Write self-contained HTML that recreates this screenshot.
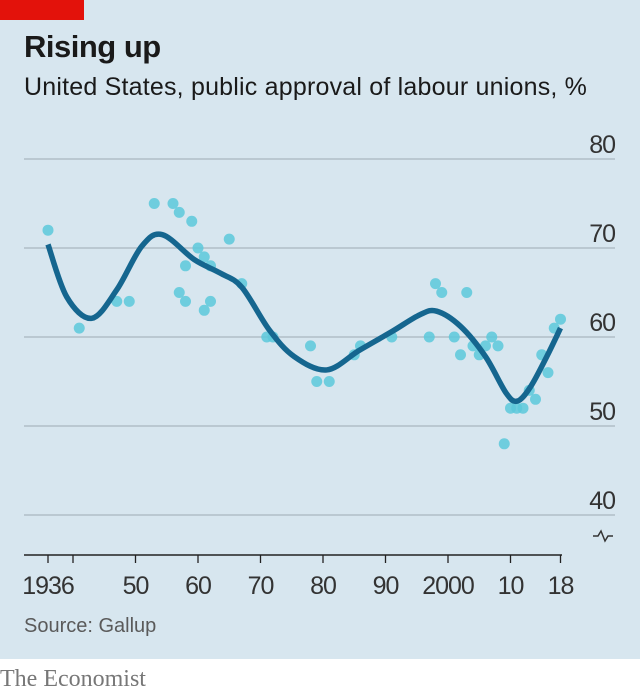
<!DOCTYPE html>
<html><head><meta charset="utf-8"><style>
body{margin:0;width:640px;height:697px;overflow:hidden;background:#fff;font-family:"Liberation Sans",sans-serif;}
#panel{position:absolute;left:0;top:0;width:640px;height:659px;background:#d7e6ef;}
#tag{position:absolute;left:0;top:0;width:84px;height:20px;background:#e3120b;}
.t{position:absolute;white-space:nowrap;}
</style></head><body>
<div id="panel"></div>
<div id="tag"></div>
<div class="t" style="left:24px;top:29px;font-size:31px;font-weight:bold;color:#1a1a1a;letter-spacing:-0.5px">Rising up</div>
<div class="t" style="left:24px;top:73px;font-size:25px;color:#1a1a1a;letter-spacing:0.2px">United States, public approval of labour unions, %</div>
<svg id="chart" width="640" height="659" style="position:absolute;left:0;top:0"></svg>
<div class="t" style="left:24px;top:615px;font-size:20px;color:#5a5a5a">Source: Gallup</div>
<div class="t" style="left:0px;top:666px;font-size:24px;color:#777;font-family:'Liberation Serif',serif">The Economist</div>
<script>
const dotYears=[1936,1941,1947,1949,1953,1956,1957,1959,1957,1958,1961,1960,1961,1958,1962,1962,1965,1967,1971,1972,1978,1979,1981,1985,1986,1991,1997,1998,1999,2001,2002,2003,2004,2005,2006,2007,2008,2009,2010,2011,2012,2013,2014,2015,2016,2017,2018];
const dotValues=[72,61,64,64,75,75,74,73,65,64,63,70,69,68,68,64,71,66,60,60,59,55,55,58,59,60,60,66,65,60,58,65,59,58,59,60,59,48,52,52,52,54,53,58,56,61,62];
const trendYears=[1936,1939,1943,1947,1951,1954.3,1959.4,1963.5,1967,1971.4,1975.4,1980.6,1985.8,1991,1995.5,1998.2,2002,2006,2009.3,2011.1,2013.2,2015.8,2018];
const trendValues=[70.4,64.5,62.1,65.3,70.2,71.5,68.7,67.2,65.6,60.8,57.8,56.3,58.5,60.6,62.5,62.9,61.2,57.8,53.7,52.8,54.4,57.8,61];
const yTicks=[40,50,60,70,80];
const xTicks=[1936,1940,1950,1960,1970,1980,1990,2000,2010,2018];
const xLabels=["1936","","50","60","70","80","90","2000","10","18"];
const NS="http://www.w3.org/2000/svg";
const svg=document.getElementById('chart');
const xS=y=>48+(y-1936)*6.25;
const yS=v=>159+(80-v)*8.9;
function mk(t,a){const e=document.createElementNS(NS,t);for(const k in a)e.setAttribute(k,a[k]);svg.appendChild(e);return e;}
yTicks.forEach(v=>{
 const l=mk('line',{x1:24,x2:615,y1:yS(v),y2:yS(v),stroke:'#a9b7bf','stroke-width':1.3});
 
 
 const t=mk('text',{x:615,y:yS(v)-6,'text-anchor':'end','font-size':25,fill:'#333','font-family':'Liberation Sans, sans-serif','letter-spacing':'-1'});
 t.textContent=v;
 
 
});
const br=mk('path',{d:'M593,536 h5 l3,-5 l4,10 l3,-5 h5',fill:'none',stroke:'#333','stroke-width':1.5});


const ax=mk('line',{x1:24,x2:562,y1:555,y2:555,stroke:'#222','stroke-width':1.5});


xTicks.forEach((yr,i)=>{
 const tk=mk('line',{x1:xS(yr),x2:xS(yr),y1:555,y2:563,stroke:'#222','stroke-width':1.3});
 
 
 if(xLabels[i]){
  const t=mk('text',{x:xS(yr),y:594,'text-anchor':'middle','font-size':25,fill:'#333','font-family':'Liberation Sans, sans-serif','letter-spacing':'-1'});
  t.textContent=xLabels[i];
  
  
 }
});
dotYears.forEach((yr,i)=>{
 const c=mk('circle',{cx:xS(yr),cy:yS(dotValues[i]),r:5.5,fill:'#5cc8db','fill-opacity':0.85});
 
 
});
const P=trendYears.map((y,i)=>[xS(y),yS(trendValues[i])]);
let d='M'+P[0][0]+','+P[0][1];
for(let i=0;i<P.length-1;i++){
 const p0=P[Math.max(0,i-1)],p1=P[i],p2=P[i+1],p3=P[Math.min(P.length-1,i+2)];
 const c1=[p1[0]+(p2[0]-p0[0])/6,p1[1]+(p2[1]-p0[1])/6];
 const c2=[p2[0]-(p3[0]-p1[0])/6,p2[1]-(p3[1]-p1[1])/6];
 d+=' C'+c1+' '+c2+' '+p2;
}
const tr=mk('path',{d:d,fill:'none',stroke:'#15668f','stroke-width':5.5,'stroke-linecap':'butt','stroke-linejoin':'round'});


</script>
</body></html>
